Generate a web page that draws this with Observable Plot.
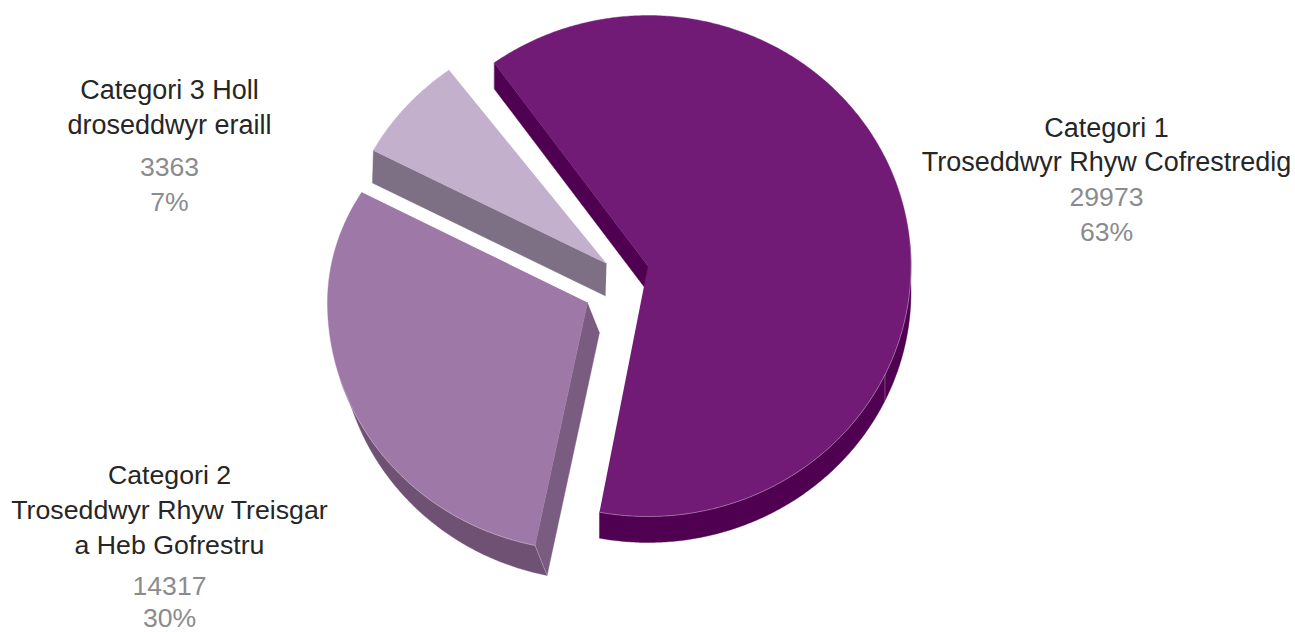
<!DOCTYPE html>
<html>
<head>
<meta charset="utf-8">
<script src="https://cdn.jsdelivr.net/npm/d3@7"></script>
<script src="https://cdn.jsdelivr.net/npm/@observablehq/plot@0.6"></script>
<style>
  html, body { margin: 0; padding: 0; background: #fff; }
  svg { display: block; }
</style>
</head>
<body>
<div id="chart"></div>
<script>
// Offender counts per category
const categories = ["Categori 1", "Categori 2", "Categori 3"];
const values = [29973, 14317, 3363];
const nameLines = [
  ["Categori 1", "Troseddwyr Rhyw Cofrestredig"],
  ["Categori 2", "Troseddwyr Rhyw Treisgar", "a Heb Gofrestru"],
  ["Categori 3 Holl", "droseddwyr eraill"]
];

// Tilted-pie layout: each exploded slice has its own apex, radii and extrusion
const firstAngle = 324.2;
const layout = [
  {apex: [647.5, 265.5], rx: 263, ryUp: 250.5, ryDown: 250.5, turn: 0, drop: [0, 26],
   top: "#711b76", rim: "#4f0050", side: "#4f0050", rimSpan: s => [445, s.end], seam: 115.7},
  {apex: [587, 302], rx: 260, ryUp: 222, ryDown: 248, turn: 1, drop: [12, 30],
   top: "#9e78a7", rim: "#6f5173", side: "#7a5c80", rimSpan: s => [s.start, s.start + 60]},
  {apex: [606, 263], rx: 264, ryUp: 241, ryDown: 241, turn: -0.8, drop: [-1, 32.5],
   top: "#c3b0cd", side: "#7e7084"}
];
const labelPlacement = [
  {x: 1106, y: [128, 162, 197, 232], nameSize: 27},
  {x: 169, y: [475, 510, 545, 586, 617.5], nameSize: 26.7},
  {x: 169, y: [90, 125, 167, 202], nameSize: 27}
];

const total = d3.sum(values);
const rad = Math.PI / 180;

// Slice sweep comes straight from the values; slices past the wrap restart at 0 degrees
let cursor = firstAngle;
const slices = values.map((v, i) => {
  const start = (i === 0 ? cursor : cursor % 360) + layout[i].turn;
  const sweep = (v / total) * 360;
  cursor += sweep;
  return {...layout[i], start, end: start + sweep};
});

function rimPoint(s, a, shift = [0, 0]) {
  const c = Math.cos(a * rad);
  const ry = c > 0 ? s.ryUp : s.ryDown;
  return {x: s.apex[0] + s.rx * Math.sin(a * rad) + shift[0], y: s.apex[1] - ry * c + shift[1]};
}
function arc(s, from, to, shift) {
  const n = Math.ceil(Math.abs(to - from) * 2);
  return d3.range(n + 1).map(k => rimPoint(s, from + (to - from) * k / n, shift));
}
const at = (p, shift = [0, 0]) => ({x: p[0] + shift[0], y: p[1] + shift[1]});

const face = (pts, fill) => Plot.line(pts, {x: "x", y: "y", fill, stroke: fill, strokeWidth: 0.4});
const seamLine = (pts, o = 0.55) => Plot.line(pts, {x: "x", y: "y", stroke: "#e3d3e6", strokeOpacity: o, strokeWidth: 0.7});

const marks = [];
slices.forEach(s => {
  const edgePt = rimPoint(s, s.start);
  const edgeLow = rimPoint(s, s.start, s.drop);
  // Outer wall
  if (s.rimSpan) {
    const [a, b] = s.rimSpan(s);
    marks.push(face([...arc(s, a, b), ...arc(s, b, a, s.drop)], s.rim));
  }
  // Cut face along the slice's radial edge
  marks.push(face([at(s.apex), edgePt, edgeLow, at(s.apex, s.drop)], s.side));
  // Upper surface
  marks.push(face([at(s.apex), ...arc(s, s.start, s.end)], s.top));
  // Thin highlights on the edges between faces
  if (s.rimSpan) {
    const [a, b] = s.rimSpan(s);
    marks.push(seamLine(arc(s, a, b)));
    marks.push(seamLine([edgePt, edgeLow], 0.45));
  }
  if (s.seam) marks.push(seamLine([rimPoint(s, s.seam), rimPoint(s, s.seam, s.drop)], 0.5));
});

// Name in dark ink, then the count and share in grey
const textRows = values.flatMap((v, i) => {
  const lines = [...nameLines[i], String(v), `${Math.round(v / total * 100)}%`];
  return lines.map((text, j) => {
    const isName = j < nameLines[i].length;
    return {
      category: categories[i],
      text,
      x: labelPlacement[i].x,
      y: labelPlacement[i].y[j],
      ink: isName ? "#262626" : "#8b8b8e",
      size: isName ? labelPlacement[i].nameSize : 26.6
    };
  });
});

const chart = Plot.plot({
  width: 1295,
  height: 632,
  margin: 0,
  x: {domain: [0, 1295], range: [0, 1295], axis: null},
  y: {domain: [0, 632], range: [0, 632], axis: null},
  style: {background: "#fff"},
  marks: [
    ...marks,
    Plot.text(textRows, {
      x: "x", y: "y", text: "text", fill: "ink", fontSize: "size",
      textAnchor: "middle", lineAnchor: "middle",
      fontFamily: "Liberation Sans"
    })
  ]
});
document.getElementById("chart").append(chart);
</script>
</body>
</html>
